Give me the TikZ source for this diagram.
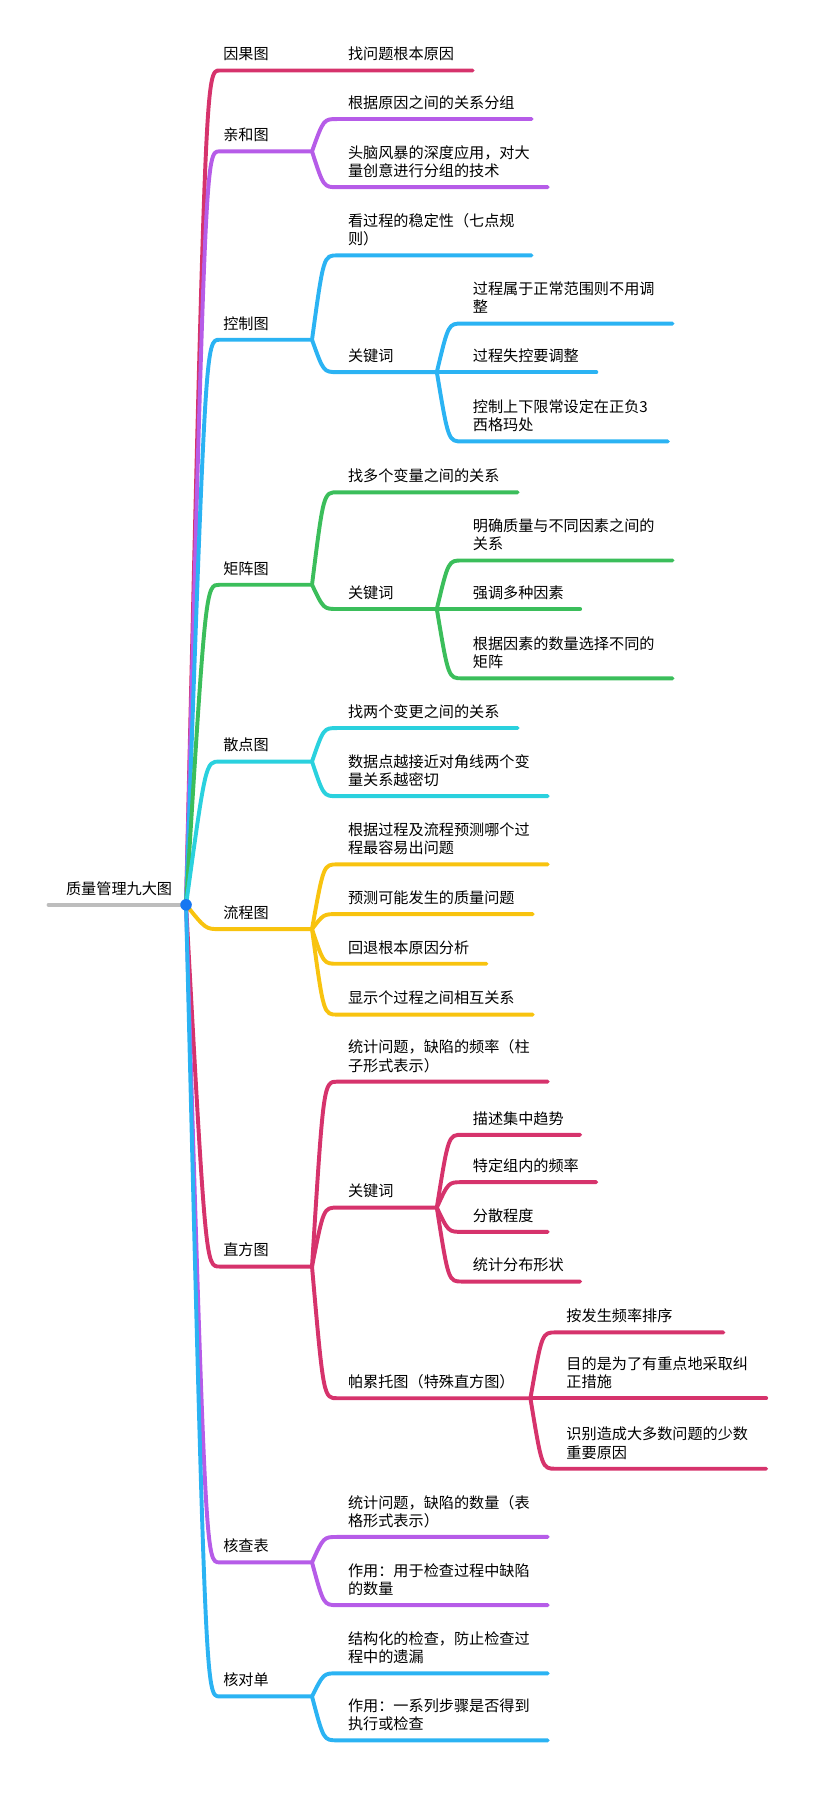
\documentclass[tikz,border=0pt]{standalone}
\usepackage{fontspec}
\newfontfamily\cjk{Noto Sans CJK SC}
\usetikzlibrary{positioning, calc}
\definecolor{cred}{HTML}{D6336C}
\definecolor{cpur}{HTML}{B65CE8}
\definecolor{cblu}{HTML}{2BB3F3}
\definecolor{cgrn}{HTML}{3BBE5B}
\definecolor{ccya}{HTML}{2AD1DE}
\definecolor{cyel}{HTML}{F8C30F}
\definecolor{cgry}{HTML}{BDBDBD}
\definecolor{cdot}{HTML}{1877F2}
\tikzset{
  br/.style={line width=3.4pt, line cap=round, line join=round},
  txt/.style={font=\cjk\fontsize{13.1}{15.7}\selectfont, inner sep=0pt, align=left, execute at end node=\strut},
  fan/.style={to path={.. controls ($(\tikztotarget)+(-12,0)$) and ($(\tikztotarget)+(-12,0)$) .. (\tikztotarget) \tikztonodes}}
}
\begin{document}
\begin{tikzpicture}[x=1pt, y=-1pt]
\useasboundingbox (0,0) rectangle (705.3,1566.3);
\coordinate (rt) at (42,783);
\coordinate (dot) at (161,783);
\node[txt, above right=4.3pt and 15pt of rt] (rtt) {质量管理九大图};
\draw[br, cgry] (rt) -- (dot);

% 因果图
\coordinate (yg) at (190,61); \coordinate (yg-e) at (270,61);
\node[txt, above right=4.3pt and 3pt of yg] (ygt) {因果图};
\coordinate (yg1) at (292,61); \coordinate (yg1-e) at (409,61);
\node[txt, above right=4.3pt and 9pt of yg1] (yg1t) {找问题根本原因};
\draw[br, cred, fan] (dot) to (yg) -- (yg-e) to (yg1) -- (yg1-e);

% 亲和图
\coordinate (qh) at (190,131); \coordinate (qh-e) at (270,131);
\node[txt, above right=4.3pt and 3pt of qh] (qht) {亲和图};
\draw[br, cpur, fan] (dot) to (qh) -- (qh-e);
\coordinate (qh1) at (292,103); \coordinate (qh1-e) at (460,103);
\node[txt, above right=4.3pt and 9pt of qh1] (qh1t) {根据原因之间的关系分组};
\draw[br, cpur, fan] (qh-e) to (qh1) -- (qh1-e);
\coordinate (qh2) at (292,162); \coordinate (qh2-e) at (474,162);
\node[txt, above right=4.3pt and 9pt of qh2] (qh2t) {头脑风暴的深度应用，对大\\量创意进行分组的技术};
\draw[br, cpur, fan] (qh-e) to (qh2) -- (qh2-e);

% 控制图
\coordinate (kz) at (190,294); \coordinate (kz-e) at (270,294);
\node[txt, above right=4.3pt and 3pt of kz] (kzt) {控制图};
\draw[br, cblu, fan] (dot) to (kz) -- (kz-e);
\coordinate (kz1) at (292,221); \coordinate (kz1-e) at (460,221);
\node[txt, above right=4.3pt and 9pt of kz1] (kz1t) {看过程的稳定性（七点规\\则）};
\draw[br, cblu, fan] (kz-e) to (kz1) -- (kz1-e);
\coordinate (kz2) at (292,322); \coordinate (kz2-e) at (378,322);
\node[txt, above right=4.3pt and 9pt of kz2] (kz2t) {关键词};
\draw[br, cblu, fan] (kz-e) to (kz2) -- (kz2-e);
\coordinate (kz21) at (400,280); \coordinate (kz21-e) at (582,280);
\node[txt, above right=4.3pt and 9pt of kz21] (kz21t) {过程属于正常范围则不用调\\整};
\draw[br, cblu, fan] (kz2-e) to (kz21) -- (kz21-e);
\coordinate (kz22) at (400,322); \coordinate (kz22-e) at (516,322);
\node[txt, above right=4.3pt and 9pt of kz22] (kz22t) {过程失控要调整};
\draw[br, cblu, fan] (kz2-e) to (kz22) -- (kz22-e);
\coordinate (kz23) at (400,382); \coordinate (kz23-e) at (578,382);
\node[txt, above right=4.3pt and 9pt of kz23] (kz23t) {控制上下限常设定在正负3\\西格玛处};
\draw[br, cblu, fan] (kz2-e) to (kz23) -- (kz23-e);

% 矩阵图
\coordinate (jz) at (190,506); \coordinate (jz-e) at (270,506);
\node[txt, above right=4.3pt and 3pt of jz] (jzt) {矩阵图};
\draw[br, cgrn, fan] (dot) to (jz) -- (jz-e);
\coordinate (jz1) at (292,426); \coordinate (jz1-e) at (448,426);
\node[txt, above right=4.3pt and 9pt of jz1] (jz1t) {找多个变量之间的关系};
\draw[br, cgrn, fan] (jz-e) to (jz1) -- (jz1-e);
\coordinate (jz2) at (292,527); \coordinate (jz2-e) at (378,527);
\node[txt, above right=4.3pt and 9pt of jz2] (jz2t) {关键词};
\draw[br, cgrn, fan] (jz-e) to (jz2) -- (jz2-e);
\coordinate (jz21) at (400,485); \coordinate (jz21-e) at (582,485);
\node[txt, above right=4.3pt and 9pt of jz21] (jz21t) {明确质量与不同因素之间的\\关系};
\draw[br, cgrn, fan] (jz2-e) to (jz21) -- (jz21-e);
\coordinate (jz22) at (400,527); \coordinate (jz22-e) at (502,527);
\node[txt, above right=4.3pt and 9pt of jz22] (jz22t) {强调多种因素};
\draw[br, cgrn, fan] (jz2-e) to (jz22) -- (jz22-e);
\coordinate (jz23) at (400,587); \coordinate (jz23-e) at (582,587);
\node[txt, above right=4.3pt and 9pt of jz23] (jz23t) {根据因素的数量选择不同的\\矩阵};
\draw[br, cgrn, fan] (jz2-e) to (jz23) -- (jz23-e);

% 散点图
\coordinate (sd) at (190,659); \coordinate (sd-e) at (270,659);
\node[txt, above right=4.3pt and 3pt of sd] (sdt) {散点图};
\draw[br, ccya, fan] (dot) to (sd) -- (sd-e);
\coordinate (sd1) at (292,630); \coordinate (sd1-e) at (448,630);
\node[txt, above right=4.3pt and 9pt of sd1] (sd1t) {找两个变更之间的关系};
\draw[br, ccya, fan] (sd-e) to (sd1) -- (sd1-e);
\coordinate (sd2) at (292,689); \coordinate (sd2-e) at (474,689);
\node[txt, above right=4.3pt and 9pt of sd2] (sd2t) {数据点越接近对角线两个变\\量关系越密切};
\draw[br, ccya, fan] (sd-e) to (sd2) -- (sd2-e);

% 流程图
\coordinate (lc) at (190,804); \coordinate (lc-e) at (270,804);
\node[txt, above right=4.3pt and 3pt of lc] (lct) {流程图};
\draw[br, cyel, fan] (dot) to (lc) -- (lc-e);
\coordinate (lc1) at (292,748); \coordinate (lc1-e) at (474,748);
\node[txt, above right=4.3pt and 9pt of lc1] (lc1t) {根据过程及流程预测哪个过\\程最容易出问题};
\draw[br, cyel, fan] (lc-e) to (lc1) -- (lc1-e);
\coordinate (lc2) at (292,791); \coordinate (lc2-e) at (461,791);
\node[txt, above right=4.3pt and 9pt of lc2] (lc2t) {预测可能发生的质量问题};
\draw[br, cyel, fan] (lc-e) to (lc2) -- (lc2-e);
\coordinate (lc3) at (292,834); \coordinate (lc3-e) at (421,834);
\node[txt, above right=4.3pt and 9pt of lc3] (lc3t) {回退根本原因分析};
\draw[br, cyel, fan] (lc-e) to (lc3) -- (lc3-e);
\coordinate (lc4) at (292,878); \coordinate (lc4-e) at (461,878);
\node[txt, above right=4.3pt and 9pt of lc4] (lc4t) {显示个过程之间相互关系};
\draw[br, cyel, fan] (lc-e) to (lc4) -- (lc4-e);

% 直方图
\coordinate (zf) at (190,1096); \coordinate (zf-e) at (270,1096);
\node[txt, above right=4.3pt and 3pt of zf] (zft) {直方图};
\draw[br, cred, fan] (dot) to (zf) -- (zf-e);
\coordinate (zf1) at (292,936); \coordinate (zf1-e) at (474,936);
\node[txt, above right=4.3pt and 9pt of zf1] (zf1t) {统计问题，缺陷的频率（柱\\子形式表示）};
\draw[br, cred, fan] (zf-e) to (zf1) -- (zf1-e);
\coordinate (zf2) at (292,1045); \coordinate (zf2-e) at (378,1045);
\node[txt, above right=4.3pt and 9pt of zf2] (zf2t) {关键词};
\draw[br, cred, fan] (zf-e) to (zf2) -- (zf2-e);
\coordinate (zf21) at (400,982); \coordinate (zf21-e) at (502,982);
\node[txt, above right=4.3pt and 9pt of zf21] (zf21t) {描述集中趋势};
\draw[br, cred, fan] (zf2-e) to (zf21) -- (zf21-e);
\coordinate (zf22) at (400,1023); \coordinate (zf22-e) at (516,1023);
\node[txt, above right=4.3pt and 9pt of zf22] (zf22t) {特定组内的频率};
\draw[br, cred, fan] (zf2-e) to (zf22) -- (zf22-e);
\coordinate (zf23) at (400,1066); \coordinate (zf23-e) at (474,1066);
\node[txt, above right=4.3pt and 9pt of zf23] (zf23t) {分散程度};
\draw[br, cred, fan] (zf2-e) to (zf23) -- (zf23-e);
\coordinate (zf24) at (400,1109); \coordinate (zf24-e) at (502,1109);
\node[txt, above right=4.3pt and 9pt of zf24] (zf24t) {统计分布形状};
\draw[br, cred, fan] (zf2-e) to (zf24) -- (zf24-e);
\coordinate (zf3) at (292,1210); \coordinate (zf3-e) at (459,1210);
\node[txt, above right=4.3pt and 9pt of zf3] (zf3t) {帕累托图（特殊直方图）};
\draw[br, cred, fan] (zf-e) to (zf3) -- (zf3-e);
\coordinate (zf31) at (481,1153); \coordinate (zf31-e) at (626,1153);
\node[txt, above right=4.3pt and 9pt of zf31] (zf31t) {按发生频率排序};
\draw[br, cred, fan] (zf3-e) to (zf31) -- (zf31-e);
\coordinate (zf32) at (481,1210); \coordinate (zf32-e) at (663,1210);
\node[txt, above right=4.3pt and 9pt of zf32] (zf32t) {目的是为了有重点地采取纠\\正措施};
\draw[br, cred, fan] (zf3-e) to (zf32) -- (zf32-e);
\coordinate (zf33) at (481,1271); \coordinate (zf33-e) at (663,1271);
\node[txt, above right=4.3pt and 9pt of zf33] (zf33t) {识别造成大多数问题的少数\\重要原因};
\draw[br, cred, fan] (zf3-e) to (zf33) -- (zf33-e);

% 核查表
\coordinate (hc) at (190,1352); \coordinate (hc-e) at (270,1352);
\node[txt, above right=4.3pt and 3pt of hc] (hct) {核查表};
\draw[br, cpur, fan] (dot) to (hc) -- (hc-e);
\coordinate (hc1) at (292,1330); \coordinate (hc1-e) at (474,1330);
\node[txt, above right=4.3pt and 9pt of hc1] (hc1t) {统计问题，缺陷的数量（表\\格形式表示）};
\draw[br, cpur, fan] (hc-e) to (hc1) -- (hc1-e);
\coordinate (hc2) at (292,1389); \coordinate (hc2-e) at (474,1389);
\node[txt, above right=4.3pt and 9pt of hc2] (hc2t) {作用：用于检查过程中缺陷\\的数量};
\draw[br, cpur, fan] (hc-e) to (hc2) -- (hc2-e);

% 核对单
\coordinate (hd) at (190,1468); \coordinate (hd-e) at (270,1468);
\node[txt, above right=4.3pt and 3pt of hd] (hdt) {核对单};
\draw[br, cblu, fan] (dot) to (hd) -- (hd-e);
\coordinate (hd1) at (292,1448); \coordinate (hd1-e) at (474,1448);
\node[txt, above right=4.3pt and 9pt of hd1] (hd1t) {结构化的检查，防止检查过\\程中的遗漏};
\draw[br, cblu, fan] (hd-e) to (hd1) -- (hd1-e);
\coordinate (hd2) at (292,1506); \coordinate (hd2-e) at (474,1506);
\node[txt, above right=4.3pt and 9pt of hd2] (hd2t) {作用：一系列步骤是否得到\\执行或检查};
\draw[br, cblu, fan] (hd-e) to (hd2) -- (hd2-e);

\fill[cdot] (dot) circle (5pt);
\end{tikzpicture}
\end{document}
